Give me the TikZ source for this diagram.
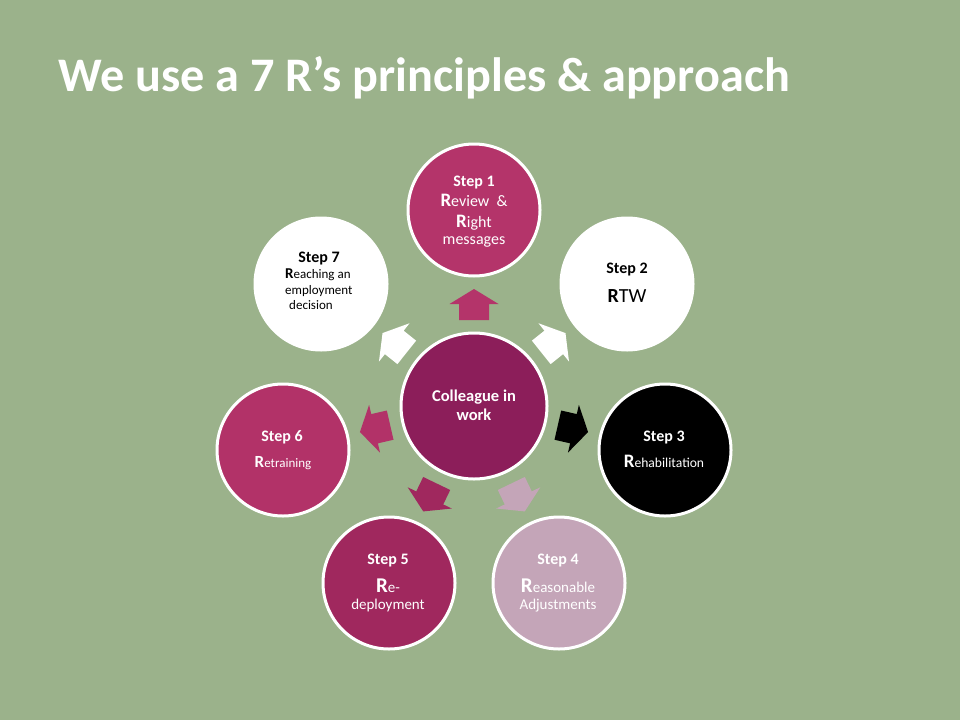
\documentclass[tikz,border=0pt]{standalone}
\usepackage{fontspec}
\setmainfont{Carlito}
\definecolor{bg}{RGB}{155,178,139}
\definecolor{cmid}{RGB}{140,30,90}
\definecolor{cone}{RGB}{180,52,106}
\definecolor{cfour}{RGB}{196,165,184}
\definecolor{cfive}{RGB}{160,40,94}
\definecolor{csix}{RGB}{178,50,104}
\newcommand\fs[1]{\fontsize{#1}{#1}\selectfont}
\newcommand\RR[1]{{\fs{#1}\bfseries R}}
\tikzset{
  stepcircle/.style={circle, draw=white, line width=3pt, minimum size=132pt, inner sep=0pt},
  midcircle/.style={circle, draw=white, line width=3pt, minimum size=146pt, inner sep=0pt},
  txt/.style={anchor=base, inner sep=0pt},
  txtl/.style={anchor=base west, inner sep=0pt},
  head/.style={txt, font=\fs{16}\bfseries},
}
\newcommand\blockarr[2]{%
  \begin{scope}[shift={(474,406)}, rotate=#1]
    \fill[#2] (86,-15) -- (102,-15) -- (102,-24.5) -- (117,0) -- (102,24.5) -- (102,15) -- (86,15) -- cycle;
  \end{scope}}
\begin{document}
\begin{tikzpicture}[x=1pt,y=-1pt]
\fill[bg] (0,0) rectangle (960,720);
\useasboundingbox (0,0) rectangle (960,720);

\node[txtl, text=white, font=\fs{48.2}\bfseries] (title) at (58,91) {We use a 7 R’s principles \& approach};

% circles
\node[midcircle, fill=cmid] (mid) at (474,406) {};
\node[stepcircle, fill=cone] (s1) at (474,210) {};
\node[stepcircle, fill=white] (s2) at (627,284) {};
\node[stepcircle, fill=black] (s3) at (665,450) {};
\node[stepcircle, fill=cfour] (s4) at (559,583) {};
\node[stepcircle, fill=cfive] (s5) at (389,583) {};
\node[stepcircle, fill=csix] (s6) at (283,450) {};
\node[stepcircle, fill=white] (s7) at (321,284) {};

% arrows
\blockarr{90}{cone}
\blockarr{38.57}{white}
\blockarr{-12.86}{black}
\blockarr{-64.29}{cfour}
\blockarr{-115.71}{cfive}
\blockarr{-167.14}{csix}
\blockarr{141.43}{white}

% centre text
\node[txt, text=white, font=\fs{16.5}\bfseries] (m1) at (474,401) {Colleague in};
\node[txt, text=white, font=\fs{16.5}\bfseries] (m2) at (474,420) {work};

% step 1
\node[head, text=white] (s1a) at (474,186) {Step 1};
\node[txt, text=white, font=\fs{16}] (s1b) at (474,206) {\RR{19}eview\ \ \&};
\node[txt, text=white, font=\fs{16}] (s1c) at (474,227) {\RR{19}ight};
\node[txt, text=white, font=\fs{16}] (s1d) at (474,244) {messages};

% step 2
\node[head, text=black] (s2a) at (627,273) {Step 2};
\node[txt, text=black, font=\fs{20}] (s2b) at (627,302) {\RR{20}TW};

% step 3
\node[head, text=white] (s3a) at (664,441) {Step 3};
\node[txt, text=white, font=\fs{13.6}] (s3b) at (664,467) {\RR{19}ehabilitation};

% step 4
\node[head, text=white] (s4a) at (558,564) {Step 4};
\node[txt, text=white, font=\fs{15}] (s4b) at (558,592) {\RR{21}easonable};
\node[txt, text=white, font=\fs{15}] (s4c) at (558,609) {Adjustments};

% step 5
\node[head, text=white] (s5a) at (388,564) {Step 5};
\node[txt, text=white, font=\fs{15}] (s5b) at (388,592) {\RR{21}e-};
\node[txt, text=white, font=\fs{15}] (s5c) at (388,609) {deployment};

% step 6
\node[head, text=white] (s6a) at (282,441) {Step 6};
\node[txt, text=white, font=\fs{13}] (s6b) at (283,467) {\RR{17}etraining};

% step 7
\node[head, text=black] (s7a) at (319,262) {Step 7};
\node[txtl, text=black, font=\fs{13}] (s7b) at (285,278) {\RR{15}eaching an};
\node[txtl, text=black, font=\fs{13}] (s7c) at (285,294) {employment};
\node[txtl, text=black, font=\fs{13}] (s7d) at (289,309) {decision};
\end{tikzpicture}
\end{document}
